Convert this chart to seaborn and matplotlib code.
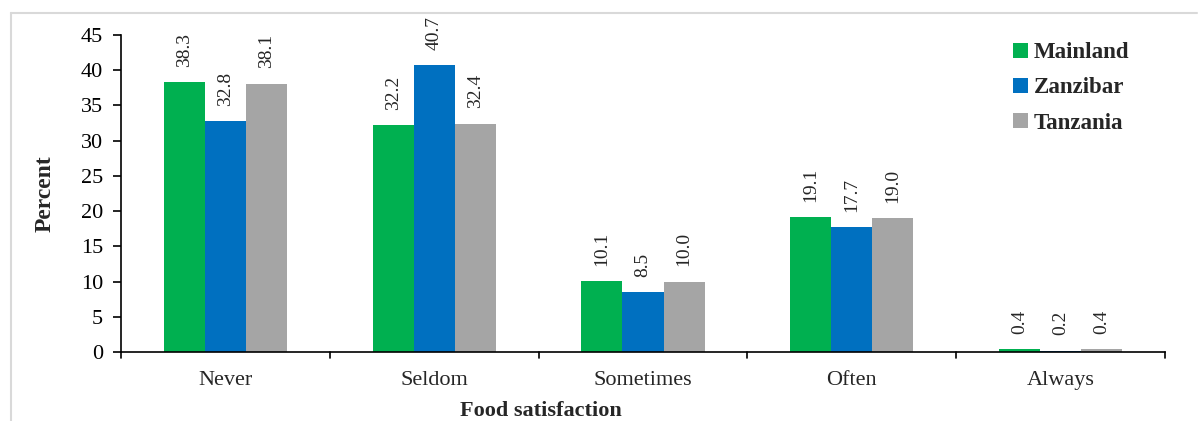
import matplotlib
matplotlib.use("Agg")
import matplotlib.pyplot as plt
import seaborn as sns
import pandas as pd
from matplotlib.transforms import blended_transform_factory

categories = ["Never", "Seldom", "Sometimes", "Often", "Always"]
series = ["Mainland", "Zanzibar", "Tanzania"]
mainland = [38.3, 32.2, 10.1, 19.1, 0.4]
zanzibar = [32.8, 40.7, 8.5, 17.7, 0.2]
tanzania = [38.1, 32.4, 10.0, 19.0, 0.4]
colors = ["#00B050", "#0070C0", "#A5A5A5"]

rows = []
for s, vals in zip(series, [mainland, zanzibar, tanzania]):
    for c, v in zip(categories, vals):
        rows.append({"cat": c, "series": s, "value": v})
df = pd.DataFrame(rows)

sns.set_theme(style="white")
plt.rcParams['font.family'] = ['Liberation Serif', 'DejaVu Serif']

fig = plt.figure(figsize=(11.98, 4.21), dpi=100)
W, H = 1198, 421
ax = fig.add_axes([121 / W, 1 - 352 / H, (1165 - 121) / W, (352 - 35) / H])

sns.barplot(data=df, x="cat", y="value", hue="series", order=categories,
            hue_order=series, palette=colors, width=0.59, saturation=1,
            edgecolor="none", linewidth=0, ax=ax)

ax.set_ylim(0, 45)
ax.set_xlim(-0.5, 4.5)
ax.set_yticks(range(0, 46, 5))
ax.set_yticklabels([str(v) for v in range(0, 46, 5)], fontsize=16)
ax.set_xticks(range(len(categories)))
ax.set_xticklabels(categories, fontsize=16)
ax.tick_params(axis="x", length=0, pad=14)
ax.tick_params(axis="y", length=6, width=1.2, direction="out", left=True, pad=7, colors="black")
tr = blended_transform_factory(ax.transData, ax.transAxes)
for b in [i - 0.5 for i in range(len(categories) + 1)]:
    ax.plot([b, b], [0, -6 / 317], transform=tr, color="black", lw=1.2, clip_on=False)

for sp in ["top", "right"]:
    ax.spines[sp].set_visible(False)
for sp in ["left", "bottom"]:
    ax.spines[sp].set_color("black")
    ax.spines[sp].set_linewidth(1.2)

ax.set_xlabel("")
ax.set_ylabel("Percent", fontsize=17, fontweight="bold", labelpad=18)

for cont in ax.containers:
    for bar in cont:
        h = bar.get_height()
        ax.annotate(f"{h:.1f}", (bar.get_x() + bar.get_width() / 2, h),
                    xytext=(0, 11), textcoords="offset points", rotation=90,
                    ha="center", va="bottom", fontsize=14)

leg = ax.legend(loc="upper left", bbox_to_anchor=((1004 - 121) / (1165 - 121), 1.006),
                frameon=False, prop={"weight": "bold", "size": 16.5},
                handlelength=0.65, handleheight=0.65, handletextpad=0.25,
                labelspacing=0.62, borderaxespad=0)

fig.text(541 / W, 1 - 411 / H, "Food satisfaction", ha="center", va="center",
         fontsize=16, fontweight="bold")

fig.add_artist(plt.Line2D([11 / W, 11 / W], [1 - 13 / H, 0], color="#D9D9D9", lw=1.5))
fig.add_artist(plt.Line2D([11 / W, 1197 / W], [1 - 13 / H, 1 - 13 / H], color="#D9D9D9", lw=1.5))

fig.savefig("out.png", dpi=100)
